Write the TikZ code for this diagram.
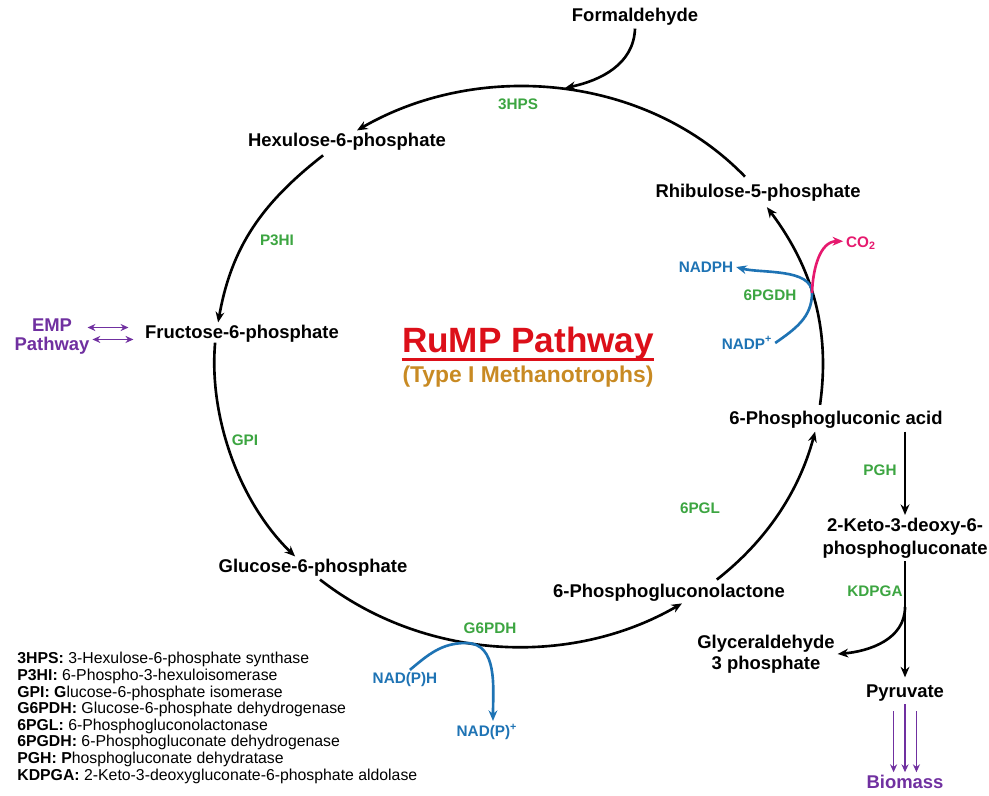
\documentclass[tikz,border=0pt]{standalone}
\usepackage{fontspec}
\setmainfont{Liberation Sans}
\usetikzlibrary{arrows.meta}
\definecolor{enzgreen}{RGB}{60,165,65}
\definecolor{cofblue}{RGB}{30,115,180}
\definecolor{emppurple}{RGB}{112,48,160}
\definecolor{co2pink}{RGB}{230,25,110}
\definecolor{rumpred}{RGB}{220,15,25}
\definecolor{typegold}{RGB}{200,138,35}

\begin{document}
\begin{tikzpicture}[x=0.02cm, y=0.02cm, >={Stealth[length=6pt,width=5pt]},
    metab/.style={font=\fontsize{10.5}{12}\selectfont\bfseries, inner sep=1.5pt, align=center},
    enz/.style={font=\fontsize{8.7}{10}\selectfont\bfseries, text=enzgreen, inner sep=1pt},
    cof/.style={font=\fontsize{8.7}{10}\selectfont\bfseries, text=cofblue, inner sep=1.5pt},
    flux/.style={->, line width=1.5pt},
    cofline/.style={->, line width=1.5pt, draw=cofblue},
    co2line/.style={->, line width=1.5pt, draw=co2pink},
    empline/.style={>={Stealth[length=4.5pt,width=4pt]}, <->, line width=1pt, draw=emppurple},
    bioline/.style={>={Stealth[length=4.5pt,width=4pt]}, ->, line width=1pt, draw=emppurple}]
\useasboundingbox (0,0) rectangle (989,795);

% metabolites
\node[metab] (form) at (635,778) {Formaldehyde};
\node[metab] (hex) at (347,653) {Hexulose-6-phosphate};
\node[metab] (fru) at (242,461) {Fructose-6-phosphate};
\node[metab] (glc) at (313,227) {Glucose-6-phosphate};
\node[metab] (pgl) at (669,202) {6-Phosphogluconolactone};
\node[metab] (pga) at (836,375) {6-Phosphogluconic acid};
\node[metab] (rib) at (758,602) {Rhibulose-5-phosphate};
\node[metab, font=\fontsize{10.5}{13}\selectfont\bfseries] (kdpg) at (905,257) {2-Keto-3-deoxy-6-\\phosphogluconate};
\node[metab] (gap) at (766,141) {Glyceraldehyde\\3 phosphate};
\node[metab] (pyr) at (905,102) {Pyruvate};
\node[metab, text=emppurple] (bio) at (905,13) {Biomass};
\node[metab, font=\fontsize{10.5}{10.8}\selectfont\bfseries, text=emppurple] (emp) at (52,458) {EMP\\Pathway};

% enzymes
\node[enz] (e3hps) at (518,691) {3HPS};
\node[enz] (ep3hi) at (277,555) {P3HI};
\node[enz] (egpi) at (245,355) {GPI};
\node[enz] (eg6pdh) at (490,167) {G6PDH};
\node[enz] (e6pgl) at (700,287) {6PGL};
\node[enz] (e6pgdh) at (770,500) {6PGDH};
\node[enz] (epgh) at (880,325) {PGH};
\node[enz] (ekdpga) at (875,204) {KDPGA};

% cofactors
\node[cof] (nadh) at (405,115) {NAD(P)H};
\node[cof] (nadp) at (487,63) {NAD(P)\textsuperscript{+}};
\node[cof] (nadph) at (706,528) {NADPH};
\node[cof] (nadpp) at (747,452) {NADP\textsuperscript{+}};
\node[cof, text=co2pink] (co2) at (861,552) {CO\textsubscript{2}};

% title
\node[font=\fontsize{20}{24}\selectfont\bfseries, text=rumpred, inner xsep=0pt, anchor=base] (title) at (528,442) {RuMP Pathway};
\draw[rumpred, line width=1.6pt] ([yshift=-3.8pt]title.base west) -- ([yshift=-3.8pt]title.base east);
\node[font=\fontsize{13}{15}\selectfont\bfseries, text=typegold] (sub) at (528,418) {(Type I Methanotrophs)};

% cycle
\coordinate (fjoin) at (565,707);
\draw[flux] (form.south) to[out=-92,in=12] (fjoin);
\draw[flux] ([xshift=-7.4pt,yshift=2.7pt]rib.north) to[out=134,in=30,looseness=0.93] ([xshift=5.7pt]hex.north);
\draw[flux] ([xshift=-13.6pt,yshift=-1pt]hex.south) to[out=218,in=80] ([xshift=-13.6pt]fru.north);
\draw[flux] ([xshift=-15.3pt,yshift=1.7pt]fru.south) to[out=265,in=136,looseness=0.85] ([xshift=-10.2pt]glc.north);
\draw[flux] ([xshift=4pt]glc.south) to[out=-38,in=210,looseness=0.92] ([xshift=7.4pt,yshift=0.7pt]pgl.south);
\draw[flux] ([xshift=27.2pt,yshift=1pt]pgl.north) to[out=38,in=255,looseness=0.9] ([xshift=-11.9pt]pga.south);
\draw[flux] ([xshift=-9.1pt,yshift=2pt]pga.north) to[out=82,in=-53,looseness=0.95] ([xshift=5.1pt,yshift=-1.5pt]rib.south);

% side reactions
\coordinate (g6j) at (466,152);
\draw[cofline] ([xshift=2.8pt]nadh.north) to[out=40,in=180] (g6j) to[out=0,in=90] ([xshift=3.4pt]nadp.north);
\coordinate (pgdj) at (812,502);
\draw[cofline] (nadpp.east) to[out=35,in=-90] (pgdj) to[out=90,in=-15,looseness=0.8] (nadph.east);
\draw[co2line] (pgdj) to[out=88,in=180] ([yshift=1pt]co2.west);
\draw[empline] ([xshift=-2.8pt,yshift=5.4pt]emp.east) -- ++(41,0);
\draw[empline] ([yshift=-1.4pt]emp.east) -- ++(41,0);

% ED branch
\draw[flux] (pga.south -| kdpg.north) -- (kdpg.north);
\draw[flux] (kdpg.south) -- ([yshift=2.5pt]pyr.north);
\coordinate (kdpgj) at (905,188);
\draw[flux] (kdpgj) to[out=-90,in=5] (gap.east);
\foreach \dx/\dy in {-6.5pt/-4pt, 0pt/0pt, 6.5pt/-4pt}
  \draw[bioline] ([xshift=\dx,yshift=\dy]pyr.south) -- ([xshift=\dx]bio.north);

% key
\node[font=\fontsize{9}{9.45}\selectfont, align=left, inner sep=0pt, anchor=north west] (key) at (17,143) {%
\textbf{3HPS:} 3-Hexulose-6-phosphate synthase\\
\textbf{P3HI:} 6-Phospho-3-hexuloisomerase\\
\textbf{GPI: G}lucose-6-phosphate isomerase\\
\textbf{G6PDH:} Glucose-6-phosphate dehydrogenase\\
\textbf{6PGL:} 6-Phosphogluconolactonase\\
\textbf{6PGDH:} 6-Phosphogluconate dehydrogenase\\
\textbf{PGH: P}hosphogluconate dehydratase\\
\textbf{KDPGA:} 2-Keto-3-deoxygluconate-6-phosphate aldolase};
\end{tikzpicture}
\end{document}
